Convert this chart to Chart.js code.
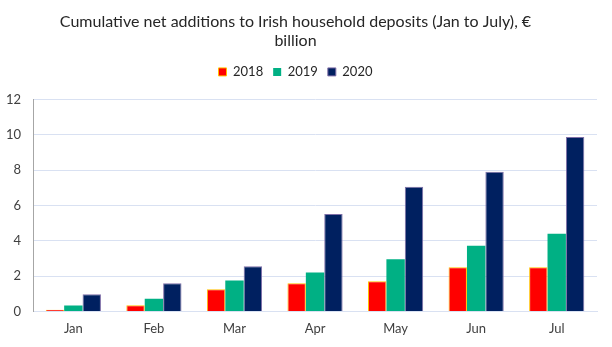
<!DOCTYPE html>
<html>
<head>
<meta charset="utf-8">
<script src="https://cdn.jsdelivr.net/npm/chart.js@4"></script>
<style>
  html, body { margin: 0; padding: 0; background: #fff; }
  #wrap { width: 612px; height: 347px; }
</style>
</head>
<body>
<div id="wrap"><canvas id="depositsChart" width="612" height="347"></canvas></div>
<script>
// cumulative net additions, € billion
var months = ['Jan', 'Feb', 'Mar', 'Apr', 'May', 'Jun', 'Jul'];
var y2018 = [0.1, 0.35, 1.25, 1.6, 1.7, 2.5, 2.5];
var y2019 = [0.33, 0.72, 1.75, 2.2, 2.95, 3.72, 4.4];
var y2020 = [0.97, 1.6, 2.55, 5.52, 7.05, 7.9, 9.87];
var yTicks = [0, 2, 4, 6, 8, 10, 12];

var fontFamily = 'Lato, "Open Sans", sans-serif';

// extra room under the legend
var legendGap = {
    id: 'legendGap',
    beforeInit: function (chart) {
        var fit = chart.legend.fit;
        chart.legend.fit = function () {
            fit.bind(chart.legend)();
            this.height += 11;
        };
    }
};

var ctx = document.getElementById('depositsChart').getContext('2d');
var depositsChart = new Chart(ctx, {
    type: 'bar',
    data: {
        labels: months,
        datasets: [{
            label: '2018',
            data: y2018,
            backgroundColor: '#FF0000',
            borderColor: '#FFC000',
            borderWidth: 1
        }, {
            label: '2019',
            data: y2019,
            backgroundColor: '#00B084',
            borderColor: '#00B084',
            borderWidth: 0
        }, {
            label: '2020',
            data: y2020,
            backgroundColor: '#002060',
            borderColor: '#7F6FA8',
            borderWidth: 1
        }]
    },
    plugins: [legendGap],
    options: {
        responsive: false,
        animation: false,
        categoryPercentage: 0.685,
        barPercentage: 1,
        layout: { padding: { left: -6, right: 15, top: 8, bottom: 0 } },
        plugins: {
            title: {
                display: true,
                text: ['Cumulative net additions to Irish household deposits (Jan to July), €', 'billion'],
                color: '#262626',
                font: { family: fontFamily, size: 16, weight: 'normal' },
                padding: { top: 4, bottom: 5 },
                lineHeight: 1.58
            },
            legend: {
                display: true,
                position: 'top',
                labels: {
                    color: '#262626',
                    font: { family: fontFamily, size: 13 },
                    boxWidth: 8,
                    boxHeight: 8,
                    padding: 10
                }
            },
            tooltip: { enabled: false }
        },
        scales: {
            x: {
                grid: { display: false, drawTicks: false },
                border: { color: '#D9E1F2', width: 1 },
                ticks: {
                    color: '#404040',
                    font: { family: fontFamily, size: 13 },
                    padding: 10
                }
            },
            y: {
                min: 0,
                max: 12,
                afterBuildTicks: function (axis) {
                    axis.ticks = yTicks.map(function (v) { return { value: v }; });
                },
                grid: { color: '#D9E1F2', lineWidth: 1, drawTicks: false },
                border: { color: '#A6A6A6', width: 1 },
                ticks: {
                    color: '#404040',
                    font: { family: fontFamily, size: 13 },
                    padding: 12
                }
            }
        }
    }
});
</script>
</body>
</html>
